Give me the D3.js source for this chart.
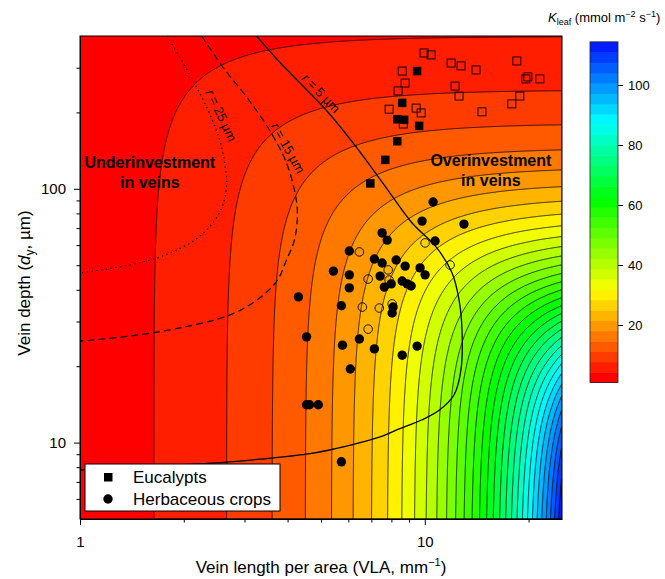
<!DOCTYPE html>
<html>
<head>
<meta charset="utf-8">
<script src="https://cdn.jsdelivr.net/npm/d3@7"></script>
<style>
  body { margin: 0; background: #fff; }
  svg text { font-family: Arial, "Liberation Sans", sans-serif; fill: #000; }
</style>
</head>
<body>
<script>
// ---- data ----
// Eucalypts, filled squares
const eucVLA   = [9.50, 8.60, 8.32, 8.71, 9.63, 8.32, 7.68, 6.95];
const eucDepth = [291, 218, 188, 187, 177, 154, 130, 105];
// Eucalypts, open squares
const eucOpenVLA   = [9.95, 10.43, 8.60, 8.77, 8.37, 11.92, 12.74, 14.08, 18.49, 12.24, 12.57,
                      19.64, 19.90, 21.56, 18.87, 17.89, 14.65, 7.88, 9.44, 9.76, 8.66];
const eucOpenDepth = [343, 337, 291, 261, 243, 313, 305, 294, 319, 254, 232,
                      271, 276, 271, 232, 216, 201, 206, 208, 199, 180];
// Herbaceous crops, filled circles
const cropVLA   = [10.57, 9.82, 12.99, 7.52, 7.78, 10.71, 6.04, 7.14, 7.52, 8.26, 8.77, 9.69, 10.02,
                   5.43, 6.04, 7.42, 8.60, 8.89, 9.13, 7.99, 7.63, 6.04, 4.30, 5.73, 8.09, 8.04,
                   4.54, 6.46, 5.77, 7.14, 9.50, 8.60, 6.08, 4.54, 4.63, 4.91, 5.73];
const cropDepth = [88.7, 74.6, 72.6, 67.0, 62.8, 62.3, 56.9, 52.9, 51.0, 52.4, 49.6, 48.8, 45.8,
                   47.4, 45.8, 45.3, 43.3, 42.2, 41.4, 42.2, 41.0, 40.7, 37.5, 34.6, 34.2, 32.4,
                   26.1, 25.6, 24.2, 23.4, 24.0, 22.1, 19.5, 14.1, 14.1, 14.1, 8.4];
// Herbaceous crops, open circles
const cropOpenVLA   = [6.46, 6.85, 7.83, 7.88, 6.59, 7.38, 6.85, 10.02, 11.84, 8.04];
const cropOpenDepth = [56.4, 44.1, 47.9, 43.7, 34.2, 33.9, 28.0, 61.2, 50.1, 35.2];

// optimum curves for vein radius r
const r5VLA   = [3.25, 3.79, 5.18, 6.33, 7.63, 9.19, 10.78, 12.0, 12.57, 12.82, 12.73, 12.15, 11.0,
                 9.82, 8.26, 7.38, 5.29, 4.54, 3.32, 2.72, 2.08, 1.0];
const r5Depth = [400, 316, 204, 146, 103.5, 73.3, 59.0, 46.6, 36.5, 27.8, 19.3, 15.4, 13.4,
                 12.3, 11.2, 10.5, 9.35, 9.0, 8.6, 8.4, 8.2, 7.8];
const r15VLA   = [2.254, 2.593, 3.042, 3.544, 3.970, 4.215, 4.272, 4.187, 3.970, 3.739, 3.316,
                  2.716, 1.947, 1.395, 1.0];
const r15Depth = [400, 302, 230, 170.5, 126.4, 94.5, 78.8, 62.8, 52.4, 43.7, 37.1,
                  31.8, 28.3, 26.3, 25.1];
const r25VLA   = [1.785, 1.947, 2.123, 2.330, 2.541, 2.627, 2.662, 2.609, 2.441, 2.151, 1.762, 1.395, 1.0];
const r25Depth = [400, 330.6, 268, 210, 155.7, 126.4, 106.4, 87.9, 74.0, 62.8, 54.8, 50.1, 46.6];

const xTicks = [1, 10];
const yTicks = [10, 100];
const cbTicks = [20, 40, 60, 80, 100];

// K_leaf surface (model): path length from vein to stomata
const kMin = 0.86, kStep = 3.44, nBands = 33;
const levels = d3.range(1, nBands).map(k => kMin + k * kStep);
function kleaf(vla, depth) {
  const dx = 1000 / (1.535 * vla);
  const L = Math.hypot(dx, depth);
  return 1.41 * Math.pow(1000 / L, 1.21);
}

const W = 665, H = 579;
const m = { left: 80, right: 562, top: 36, bottom: 519 };

const x = d3.scaleLog().domain([1, 25]).range([m.left, m.right]);
const y = d3.scaleLog().domain([5, 400]).range([m.bottom, m.top]);
const color = d3.scaleLinear()
  .domain([kMin, 30, 60, 86, kMin + nBands * kStep])
  .range(["#ff0000", "#ffff00", "#00ff00", "#00ffff", "#0000ff"]);

const svg = d3.select("body").append("svg").attr("width", W).attr("height", H);

svg.append("clipPath").attr("id", "plot")
  .append("rect").attr("x", m.left).attr("y", m.top)
  .attr("width", m.right - m.left).attr("height", m.bottom - m.top);

const plot = svg.append("g").attr("clip-path", "url(#plot)");

// filled contours
const nx = m.right - m.left, ny = m.bottom - m.top;
const grid = new Float64Array(nx * ny);
for (let j = 0; j < ny; j++) {
  const d = y.invert(m.top + j + 0.5);
  for (let i = 0; i < nx; i++) grid[j * nx + i] = kleaf(x.invert(m.left + i + 0.5), d);
}
const bands = d3.contours().size([nx, ny]).thresholds(levels)(grid);
const geo = d3.geoPath(d3.geoIdentity().translate([m.left, m.top]));

plot.append("rect").attr("x", m.left).attr("y", m.top)
  .attr("width", nx).attr("height", ny).attr("fill", color(kMin));
plot.append("g").selectAll("path").data(bands).join("path")
  .attr("d", geo)
  .attr("fill", d => color(d.value))
  .attr("stroke", "#000").attr("stroke-width", 0.8);

// r curves
const line = d3.line().curve(d3.curveCatmullRom.alpha(0.5));
const curve = (vs, ds) => line(vs.map((v, i) => [x(v), y(ds[i])]));
plot.append("path").attr("d", curve(r5VLA, r5Depth))
  .attr("fill", "none").attr("stroke", "#000").attr("stroke-width", 1.3);
plot.append("path").attr("d", curve(r15VLA, r15Depth))
  .attr("fill", "none").attr("stroke", "#000").attr("stroke-width", 1.2)
  .attr("stroke-dasharray", "7,4");
plot.append("path").attr("d", curve(r25VLA, r25Depth))
  .attr("fill", "none").attr("stroke", "#000").attr("stroke-width", 1.3)
  .attr("stroke-dasharray", "1.3,3.5");

function rLabel(v, d, angle, val) {
  const t = plot.append("text")
    .attr("transform", `translate(${x(v)},${y(d)}) rotate(${angle})`)
    .attr("text-anchor", "middle").attr("dominant-baseline", "central")
    .style("font-size", "13px");
  t.append("tspan").style("font-style", "italic").text("r");
  t.append("tspan").text(` = ${val} \u00b5m`);
}
rLabel(2.575, 195, 65, 25);
rLabel(4.02, 145, 61, 15);
rLabel(5.01, 238.5, 46, 5);

// data points
const pts = (vs, ds) => vs.map((v, i) => [x(v), y(ds[i])]);
plot.append("g").selectAll("rect").data(pts(eucOpenVLA, eucOpenDepth)).join("rect")
  .attr("x", d => d[0] - 4).attr("y", d => d[1] - 4).attr("width", 8).attr("height", 8)
  .attr("fill", "none").attr("stroke", "#000").attr("stroke-width", 0.9);
plot.append("g").selectAll("rect").data(pts(eucVLA, eucDepth)).join("rect")
  .attr("x", d => d[0] - 4.25).attr("y", d => d[1] - 4.25).attr("width", 8.5).attr("height", 8.5)
  .attr("fill", "#000");
plot.append("g").selectAll("circle").data(pts(cropOpenVLA, cropOpenDepth)).join("circle")
  .attr("cx", d => d[0]).attr("cy", d => d[1]).attr("r", 4.3)
  .attr("fill", "none").attr("stroke", "#000").attr("stroke-width", 0.9);
plot.append("g").selectAll("circle").data(pts(cropVLA, cropDepth)).join("circle")
  .attr("cx", d => d[0]).attr("cy", d => d[1]).attr("r", 4.7)
  .attr("fill", "#000");

// region annotations
function note(v, d, lines) {
  const t = plot.append("text").attr("x", x(v)).attr("y", y(d))
    .attr("text-anchor", "middle").style("font-size", "16px").style("font-weight", "bold");
  lines.forEach((s, i) => t.append("tspan").attr("x", x(v)).attr("dy", i ? 20.5 : 0).text(s));
}
note(1.594, 120.8, ["Underinvestment", "in veins"]);
note(15.55, 123, ["Overinvestment", "in veins"]);

// frame
svg.append("rect").attr("x", m.left).attr("y", m.top).attr("width", nx).attr("height", ny)
  .attr("fill", "none").attr("stroke", "#000").attr("stroke-width", 1);

// axes
const xMinor = [2, 3, 4, 5, 6, 7, 8, 9, 20];
const yMinor = [6, 7, 8, 9, 20, 30, 40, 50, 60, 70, 80, 90, 200, 300];
const fmt = d3.format("d");
svg.append("g").attr("transform", `translate(0,${m.bottom})`)
  .call(d3.axisBottom(x).tickValues(xTicks).tickFormat(fmt).tickSize(6).tickSizeOuter(0).tickPadding(11))
  .call(g => g.selectAll("text").style("font-size", "15px"));
svg.append("g").attr("transform", `translate(0,${m.bottom})`)
  .call(d3.axisBottom(x).tickValues(xMinor).tickFormat("").tickSize(3.5).tickSizeOuter(0))
  .call(g => g.select(".domain").remove());
svg.append("g").attr("transform", `translate(${m.left},0)`)
  .call(d3.axisLeft(y).tickValues(yTicks).tickFormat(fmt).tickSize(6).tickSizeOuter(0).tickPadding(8))
  .call(g => g.selectAll("text").style("font-size", "15px"));
svg.append("g").attr("transform", `translate(${m.left},0)`)
  .call(d3.axisLeft(y).tickValues(yMinor).tickFormat("").tickSize(3.5).tickSizeOuter(0))
  .call(g => g.select(".domain").remove());
svg.selectAll(".domain, .tick line").attr("stroke", "#000");

// axis titles
const xt = svg.append("text").attr("x", (m.left + m.right) / 2).attr("y", 573)
  .attr("text-anchor", "middle").style("font-size", "17px");
xt.append("tspan").text("Vein length per area (VLA, mm");
xt.append("tspan").attr("dy", -7).style("font-size", "11px").text("\u22121");
xt.append("tspan").attr("dy", 7).text(")");

const yt = svg.append("text").attr("transform", `translate(30,283) rotate(-90)`)
  .attr("text-anchor", "middle").style("font-size", "17px");
yt.append("tspan").text("Vein depth (");
yt.append("tspan").style("font-style", "italic").text("d");
yt.append("tspan").attr("dy", 4).style("font-size", "12px").text("y");
yt.append("tspan").attr("dy", -4).text(", \u00b5m)");

// legend
const lg = svg.append("g");
lg.append("rect").attr("x", 85).attr("y", 464).attr("width", 195).attr("height", 47)
  .attr("fill", "#fff").attr("stroke", "#000").attr("stroke-width", 1);
lg.append("rect").attr("x", 104).attr("y", 473).attr("width", 8.5).attr("height", 8.5).attr("fill", "#000");
lg.append("circle").attr("cx", 108).attr("cy", 499).attr("r", 4.7).attr("fill", "#000");
lg.append("text").attr("x", 133).attr("y", 483).style("font-size", "17px").text("Eucalypts");
lg.append("text").attr("x", 133).attr("y", 505).style("font-size", "17px").text("Herbaceous crops");

// colour bar
const yc = d3.scaleLinear().domain([0, 100]).range([385, 85]);
const cb = svg.append("g");
cb.selectAll("rect").data(d3.range(nBands)).join("rect")
  .attr("x", 590).attr("width", 28)
  .attr("y", k => yc(kMin + (k + 1) * kStep))
  .attr("height", k => yc(kMin + k * kStep) - yc(kMin + (k + 1) * kStep) + 0.5)
  .attr("fill", k => color(kMin + k * kStep));
cb.append("rect").attr("x", 590).attr("width", 28)
  .attr("y", yc(kMin + nBands * kStep)).attr("height", yc(kMin) - yc(kMin + nBands * kStep))
  .attr("fill", "none").attr("stroke", "#222").attr("stroke-width", 0.8);
cb.append("g").attr("transform", "translate(618,0)")
  .call(d3.axisRight(yc).tickValues(cbTicks).tickSize(5).tickPadding(5))
  .call(g => g.select(".domain").remove())
  .call(g => g.selectAll("text").style("font-size", "13px"))
  .call(g => g.selectAll(".tick line").attr("stroke", "#000"));

const ct = svg.append("text").attr("x", 548).attr("y", 22).style("font-size", "13px");
ct.append("tspan").style("font-style", "italic").text("K");
ct.append("tspan").attr("dy", 3).style("font-size", "9px").text("leaf");
ct.append("tspan").attr("dy", -3).text(" (mmol m");
ct.append("tspan").attr("dy", -5).style("font-size", "9px").text("\u22122");
ct.append("tspan").attr("dy", 5).text(" s");
ct.append("tspan").attr("dy", -5).style("font-size", "9px").text("\u22121");
ct.append("tspan").attr("dy", 5).text(")");
</script>
</body>
</html>
